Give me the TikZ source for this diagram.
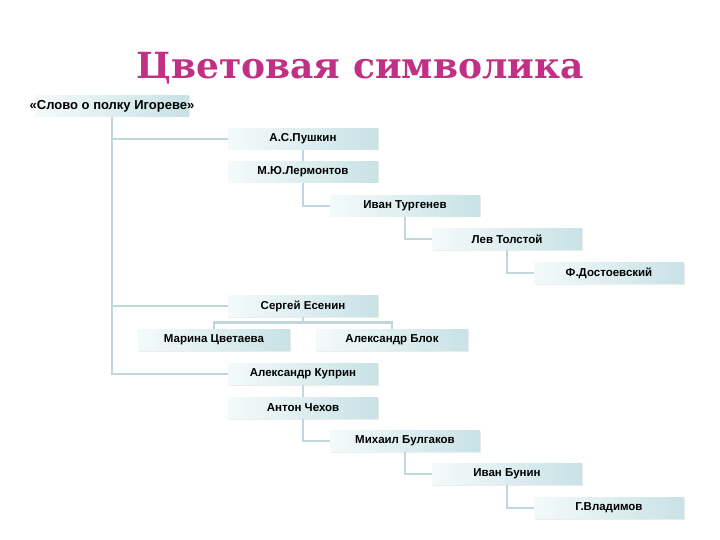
\documentclass[tikz,border=0pt]{standalone}
\usepackage{fontspec}
\setsansfont{Liberation Sans}
\newfontfamily\titlefont{DejaVu Serif}
\usetikzlibrary{positioning,shadows}
\definecolor{titlepink}{RGB}{192,48,132}
\definecolor{boxlight}{RGB}{244,250,250}
\definecolor{boxdark}{RGB}{200,226,230}
\definecolor{linkblue}{RGB}{192,215,222}

\begin{document}
\begin{tikzpicture}[x=1pt,y=-1pt,
    box/.style={shape=rectangle,minimum width=150pt,minimum height=21pt,inner sep=0pt,
      left color=boxlight,right color=boxdark,
      drop shadow={shadow xshift=1pt,shadow yshift=-1pt,opacity=0.15},
      font=\sffamily\bfseries\fontsize{11.5}{13}\selectfont},
    link/.style={draw=linkblue,line width=2.6pt}]

    \useasboundingbox[fill=white] (0,0) rectangle (720,540);

    \node[font=\titlefont\bfseries\fontsize{36}{42}\selectfont,text=titlepink] (title) at (360,68) {Цветовая символика};

    \node[box,minimum width=153pt] (slovo) at (112,106) {\makebox[0pt]{\fontsize{13}{15}\selectfont «Слово о полку Игореве»}}; % корень

	\node[box] (pushkin) at (303,139) {А.С.Пушкин};
	\node[box] (lermontov) at (303,172) {М.Ю.Лермонтов};
	\node[box] (turgenev) at (405,206) {Иван Тургенев};
	\node[box] (tolstoy) at (507,239) {Лев Толстой};
	\node[box] (dostoevsky) at (609,273) {Ф.Достоевский};

	\node[box] (esenin) at (303,306) {Сергей Есенин};
	\node[box,minimum width=152pt] (tsvetaeva) at (214,340) {Марина Цветаева};
	\node[box,minimum width=152pt] (blok) at (392,340) {Александр Блок};

	\node[box] (kuprin) at (303,374) {Александр Куприн};
	\node[box] (chekhov) at (303,408) {Антон Чехов};
	\node[box] (bulgakov) at (405,441) {Михаил Булгаков};
	\node[box] (bunin) at (507,474) {Иван Бунин};
	\node[box] (vladimov) at (609,508) {Г.Владимов};

    % ствол
    \draw[link] (slovo.south) |- (pushkin.west);
    \draw[link] (slovo.south) |- (esenin.west);
    \draw[link] (slovo.south) |- (kuprin.west);

    % лесенка 1
    \draw[link] (pushkin.south) -- (lermontov.north);
    \draw[link] (lermontov.south) |- (turgenev.west);
    \draw[link] (turgenev.south) |- (tolstoy.west);
    \draw[link] (tolstoy.south) |- (dostoevsky.west);

    % развилка
    \draw[link] (esenin.south) -- ++(0,6) coordinate (fork);
    \draw[link] (tsvetaeva.north) |- (fork) -| (blok.north);

    % лесенка 2
    \draw[link] (kuprin.south) -- (chekhov.north);
    \draw[link] (chekhov.south) |- (bulgakov.west);
    \draw[link] (bulgakov.south) |- (bunin.west);
    \draw[link] (bunin.south) |- (vladimov.west);

  \end{tikzpicture}
\end{document}
